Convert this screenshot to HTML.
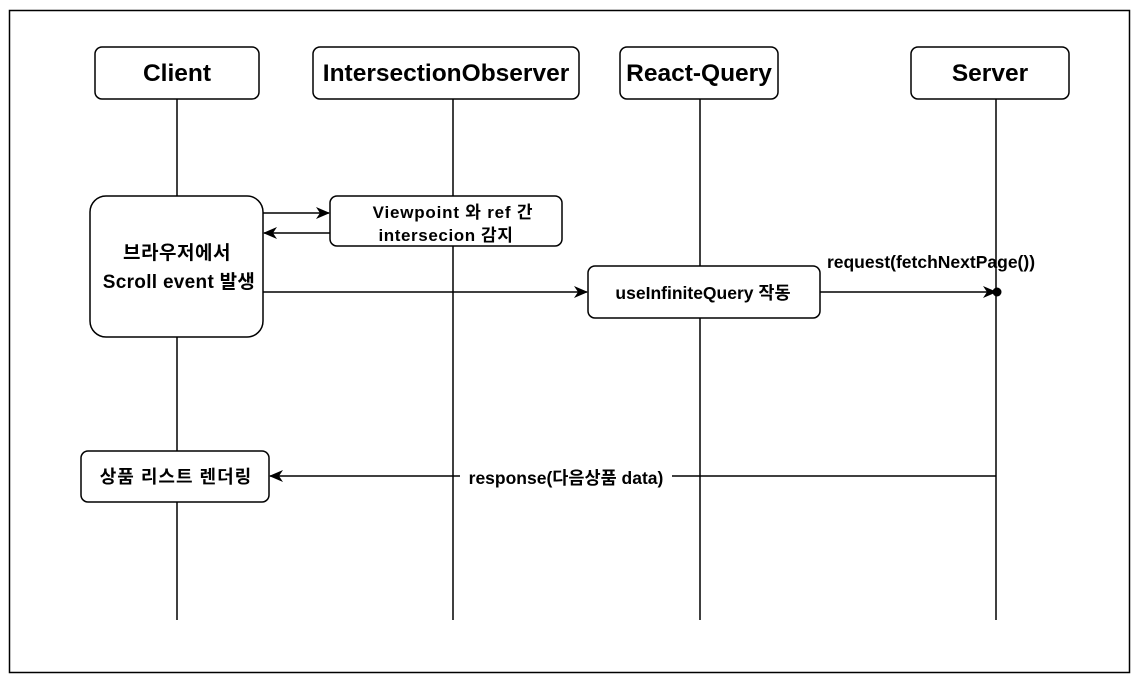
<!DOCTYPE html>
<html><head><meta charset="utf-8"><style>
body{margin:0;background:#fff;}
svg text{font-family:"Liberation Sans","Noto Sans CJK KR",sans-serif;font-weight:bold;fill:#000;}
</style></head><body>
<svg width="1136" height="679" viewBox="0 0 1136 679" xmlns="http://www.w3.org/2000/svg">
<defs>
<marker id="a" markerWidth="14" markerHeight="12" refX="13" refY="6" orient="auto" markerUnits="userSpaceOnUse">
<path d="M0,0 L14,6 L0,12 L4,6 Z" fill="#000"/></marker>
</defs>
<rect x="9.5" y="10.5" width="1120" height="662" fill="#fff" stroke="#000" stroke-width="1.5"/>
<g stroke="#000" stroke-width="1.5">
<line x1="177" y1="99" x2="177" y2="620"/>
<line x1="453" y1="99" x2="453" y2="620"/>
<line x1="700" y1="99" x2="700" y2="620"/>
<line x1="996" y1="99" x2="996" y2="620"/>
</g>
<g fill="#fff" stroke="#000" stroke-width="1.5">
<rect x="95" y="47" width="164" height="52" rx="7"/>
<rect x="313" y="47" width="266" height="52" rx="7"/>
<rect x="620" y="47" width="158" height="52" rx="7"/>
<rect x="911" y="47" width="158" height="52" rx="7"/>
<rect x="90" y="196" width="173" height="141" rx="16"/>
<rect x="330" y="196" width="232" height="50" rx="7"/>
<rect x="588" y="266" width="232" height="52" rx="7"/>
<rect x="81" y="451" width="188" height="51" rx="7"/>
</g>
<g font-size="24.5" text-anchor="middle">
<text x="177" y="81">Client</text>
<text x="446" y="81">IntersectionObserver</text>
<text x="699" y="81">React-Query</text>
<text x="990" y="81">Server</text>
</g>
<g font-size="17.5" text-anchor="middle">
<text x="177" y="259" font-size="19" letter-spacing="0.5">브라우저에서</text>
<text x="179" y="288" font-size="19" letter-spacing="0.3">Scroll event 발생</text>
<text x="453" y="218" font-size="17" letter-spacing="0.8">Viewpoint 와 ref 간</text>
<text x="446" y="241" font-size="17" letter-spacing="0.6">intersecion 감지</text>
<text x="703" y="299">useInfiniteQuery 작동</text>
<text x="176" y="483" font-size="18" letter-spacing="1">상품 리스트 렌더링</text>
<text x="931" y="268">request(fetchNextPage())</text>
</g>
<g stroke="#000" stroke-width="1.5" fill="none">
<line x1="263" y1="213" x2="329" y2="213" marker-end="url(#a)"/>
<line x1="330" y1="233" x2="264" y2="233" marker-end="url(#a)"/>
<line x1="263" y1="292" x2="587" y2="292" marker-end="url(#a)"/>
<line x1="820" y1="292" x2="996" y2="292" marker-end="url(#a)"/>
<line x1="996" y1="476" x2="270" y2="476" marker-end="url(#a)"/>
</g>
<circle cx="997" cy="292" r="4.5" fill="#000"/>
<rect x="460" y="466" width="212" height="20" fill="#fff"/>
<text x="566" y="484" font-size="17.5" text-anchor="middle">response(다음상품 data)</text>
</svg>
</body></html>
